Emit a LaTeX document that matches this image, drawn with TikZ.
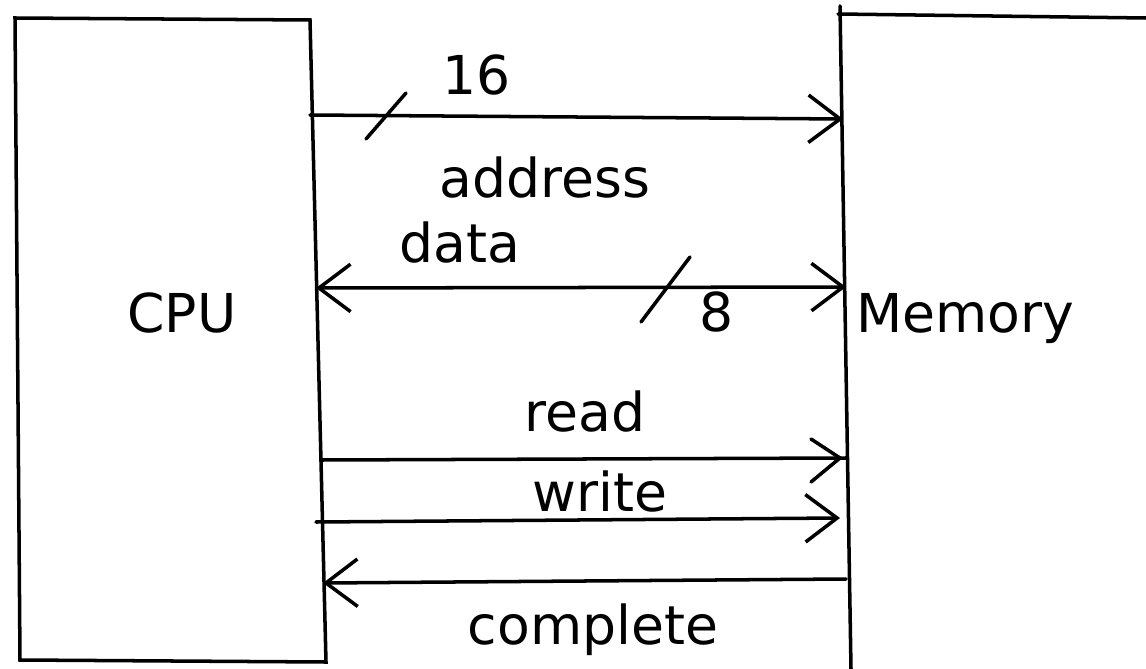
\documentclass[tikz,border=0pt]{standalone}
\usepackage{fontspec}
\setsansfont{DejaVu Sans}
\usetikzlibrary{arrows.meta}

\tikzset{barb/.tip={Straight Barb[length=18pt,width=27pt,line width=2pt]}}

\begin{document}
\begin{tikzpicture}[x=0.02cm, y=-0.02cm, font=\sffamily\fontsize{30.5}{36}\selectfont,
    wire/.style={line width=2pt, line cap=round},
    bus/.style={wire, -barb},
    lbl/.style={inner sep=0pt, anchor=base}]
        \useasboundingbox (0,0) rectangle (1146,669);

        % CPU box
        \draw[wire] (15,18) -- (310,20) -- (326,662) -- (20,660) -- cycle;
        \node[lbl] (cpu) at (182,332) {CPU};

        % Memory box
        \draw[wire] (840,6) -- (851,669);
        \draw[wire] (838,14) -- (1146,18);
        \node[lbl] (mem) at (965,332) {Memory};

        % address bus
        \coordinate (a1) at (310,115);
        \coordinate (a2) at (843,119);
        \draw[bus] (a1) -- (a2);
        \draw[wire] (366,139) -- (406,93);
        \node[lbl] (n16) at (477,94) {16};
        \node[lbl] (addr) at (545,197) {address};

        % data bus
        \coordinate (d1) at (316,288);
        \coordinate (d2) at (846,287);
        \draw[wire, barb-barb] (d1) -- (d2);
        \node[lbl] (data) at (460,262) {data};
        \draw[wire] (641,322) -- (690,257);
        \node[lbl] (n8) at (717,331) {8};

        % control lines
        \coordinate (r1) at (321,460);
        \coordinate (r2) at (846,458);
        \draw[wire] (r1) -- (r2);
        \draw[wire] (811,439) -- (840,458) -- (811,482);
        \node[lbl] (rd) at (585,431) {read};

        \coordinate (w1) at (316,522);
        \coordinate (w2) at (840,518);
        \draw[bus] (w1) -- (w2);
        \node[lbl] (wr) at (600,511) {write};

        \coordinate (c1) at (846,579);
        \coordinate (c2) at (323,583);
        \draw[bus] (c1) -- (c2);
        \node[lbl] (cmp) at (593,644) {complete};
    \end{tikzpicture}
\end{document}
